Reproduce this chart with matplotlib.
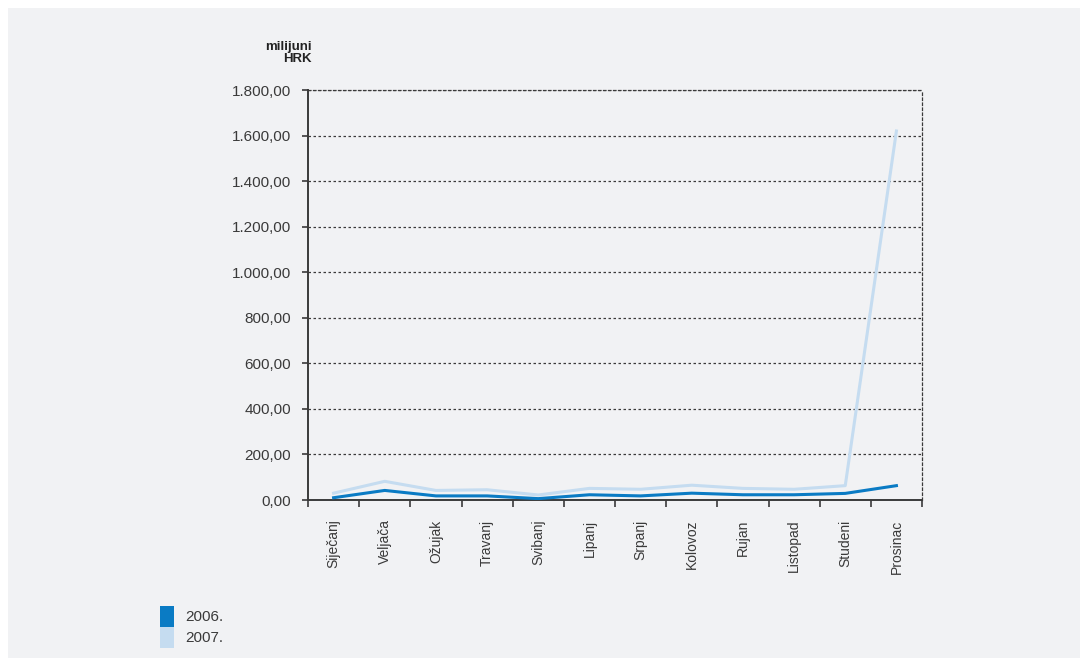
import matplotlib.pyplot as plt
from matplotlib.patches import Patch, Rectangle
from matplotlib.ticker import FuncFormatter

months = ["Siječanj", "Veljača", "Ožujak", "Travanj", "Svibanj", "Lipanj",
          "Srpanj", "Kolovoz", "Rujan", "Listopad", "Studeni", "Prosinac"]
v2006 = [10, 42, 18, 18, 6, 23, 18, 30, 23, 23, 29, 63]
v2007 = [30, 82, 42, 45, 22, 51, 47, 65, 51, 47, 63, 1620]
yticks = [0, 200, 400, 600, 800, 1000, 1200, 1400, 1600, 1800]

c2006 = "#0a7bc4"
c2007 = "#c5dcf0"
bg = "#f1f2f4"
dark = "#3a3a3a"

plt.rcParams['font.family'] = ['Liberation Sans', 'DejaVu Sans']

fig = plt.figure(figsize=(10.88, 6.66), dpi=100, facecolor="white")
fig.patches.append(Rectangle((8 / 1088, 8 / 666), 1072 / 1088, 650 / 666,
                             transform=fig.transFigure, facecolor=bg,
                             edgecolor="none", zorder=-10))

ax = fig.add_axes([308 / 1088, 1 - 500 / 666, 614 / 1088, 410 / 666])
ax.set_facecolor(bg)

x = [i + 0.5 for i in range(len(months))]
ax.plot(x, v2007, color=c2007, lw=2.2, zorder=3)
ax.plot(x, v2006, color=c2006, lw=2.2, zorder=4)

ax.set_xlim(0, 12)
ax.set_ylim(0, 1800)
ax.set_yticks(yticks)
ax.yaxis.set_major_formatter(FuncFormatter(
    lambda v, p: f"{v:,.2f}".replace(",", "X").replace(".", ",").replace("X", ".")))
ax.set_xticks(range(13))
ax.set_xticklabels([])
ax.set_xticks(x, minor=True)
ax.set_xticklabels(months, minor=True, rotation=90, fontsize=10, color=dark)
ax.tick_params(axis="x", which="minor", length=0, pad=14)
ax.tick_params(axis="x", which="major", length=5, width=1.2, color=dark)
ax.tick_params(axis="y", length=4, width=1.2, color=dark, labelsize=11,
               labelcolor=dark, pad=8)

for y in yticks[1:]:
    ax.axhline(y, color=dark, lw=0.9, ls=(0, (2, 2)), zorder=1)

for s in ["left", "bottom"]:
    ax.spines[s].set_color(dark)
    ax.spines[s].set_linewidth(1.4)
for s in ["top", "right"]:
    ax.spines[s].set_color(dark)
    ax.spines[s].set_linewidth(0.9)
    ax.spines[s].set_linestyle((0, (2, 2)))

fig.text(312 / 1088, 1 - 53 / 666, "milijuni\nHRK", ha="right", va="center",
         fontsize=9.5, fontweight="bold", color="#222222", linespacing=1.1)

handles = [Patch(facecolor=c2006, edgecolor="none"),
           Patch(facecolor=c2007, edgecolor="none")]
fig.legend(handles, ["2006.", "2007."], loc="upper left",
           bbox_to_anchor=(146 / 1088, 1 - 592 / 666), frameon=False,
           handlelength=0.9, handleheight=1.75, labelspacing=0.0,
           handletextpad=0.8, fontsize=11, labelcolor=dark)

fig.savefig("out.png", dpi=100, facecolor=fig.get_facecolor())
